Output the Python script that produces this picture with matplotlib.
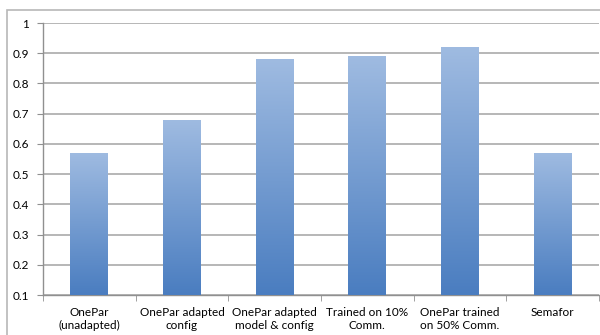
import matplotlib.pyplot as plt
import numpy as np
from matplotlib.patches import Rectangle
from matplotlib.colors import LinearSegmentedColormap

categories = [
    "OnePar\n(unadapted)",
    "OnePar adapted\nconfig",
    "OnePar adapted\nmodel & config",
    "Trained on 10%\nComm.",
    "OnePar trained\non 50% Comm.",
    "Semafor",
]
values = [0.57, 0.68, 0.88, 0.89, 0.92, 0.57]
yticks = [0.1, 0.2, 0.3, 0.4, 0.5, 0.6, 0.7, 0.8, 0.9, 1.0]
ytick_labels = ["0.1", "0.2", "0.3", "0.4", "0.5", "0.6", "0.7", "0.8", "0.9", "1"]

plt.rcParams["font.family"] = ["Lato", "DejaVu Sans"]

fig = plt.figure(figsize=(6, 3.35), dpi=100)
ax = fig.add_axes([43 / 600, 1 - 295 / 335, 556 / 600, (295 - 23) / 335])

# chart border
fig.patches.append(Rectangle((7 / 600, -0.1), 1.2, 1.1 - 10 / 335,
                             transform=fig.transFigure, fill=False,
                             edgecolor="#b8b8b8", linewidth=1.2))

x = np.arange(len(categories))
width = 0.41
cmap = LinearSegmentedColormap.from_list("bar", ["#4a7dc0", "#9fbbe1"])
grad = np.linspace(0, 1, 256).reshape(-1, 1)

bars = ax.bar(x, [v - 0.1 for v in values], bottom=0.1, width=width,
              color="none", edgecolor="none", zorder=3)
for bar, v in zip(bars, values):
    x0 = bar.get_x()
    im = ax.imshow(grad, cmap=cmap, aspect="auto", origin="lower",
                   extent=[x0, x0 + width, 0.1, v], zorder=3)
    im.set_clip_path(bar)

ax.set_xlim(-0.5, len(categories) - 0.5)
ax.set_ylim(0.1, 1.0)
ax.set_yticks(yticks)
ax.set_yticklabels(ytick_labels)
ax.set_xticks(x)
ax.set_xticklabels(categories)
ax.set_xticks(np.arange(len(categories) + 1) - 0.5, minor=True)

ax.grid(True, axis="y", color="#aaaaaa", linewidth=1.2, zorder=0)
for s in ["top", "right"]:
    ax.spines[s].set_visible(False)
for s in ["left", "bottom"]:
    ax.spines[s].set_color("#909090")
    ax.spines[s].set_linewidth(1.0)

ax.tick_params(axis="y", length=4, color="#909090", labelsize=8.5, pad=6)
ax.tick_params(axis="x", which="major", length=0, labelsize=8.5, pad=9)
ax.tick_params(axis="x", which="minor", length=4, color="#909090")
ax.set_facecolor("white")

fig.savefig("out.png", dpi=100)
